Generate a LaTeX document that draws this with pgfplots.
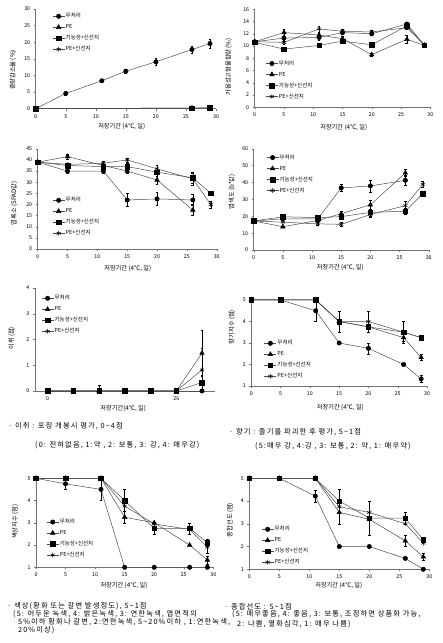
\documentclass[border=0pt]{standalone}
\usepackage{fontspec}
\setmainfont{Noto Sans CJK KR}
\newfontfamily\notefont{Noto Sans CJK KR}[LetterSpace=15.0]
\usepackage{pgfplots}
\pgfplotsset{compat=1.18}
\pgfplotsset{
 base/.style={scale only axis, anchor=south west, axis lines*=left,
   axis line style={black!55, line width=0.5pt},
   tick style={black!55, line width=0.4pt}, tick align=outside, major tick length=2pt,
   tick label style={font=\fontsize{5.3}{6}\selectfont},
   /pgf/number format/assume math mode=true,
   label style={font=\fontsize{6.2}{7}\selectfont},
   xlabel={저장기간 (4℃, 일)},
   xlabel style={anchor=center}, ylabel style={anchor=center},
   clip=false,
   legend style={draw=none, fill=none, anchor=north west, font=\fontsize{5.5}{6}\selectfont,
     inner sep=0pt, row sep=4.2pt, nodes={inner sep=0.8pt, text height=4.2pt, text depth=1pt}},
   legend cell align=left,
   legend image code/.code={\draw[##1, mark repeat=2, mark phase=2] plot coordinates {(0pt,0pt) (6pt,0pt) (12pt,0pt)};},
 },
 eb/.style={error bars/y dir=both, error bars/y explicit,
   error bars/error bar style={black, line width=0.4pt},
   error bars/error mark options={rotate=90, mark size=1.4pt, black, line width=0.4pt}},
 s1/.style={color=black!70, line width=0.5pt, mark=*, mark size=2.2pt, mark options={fill=black, draw=black, solid}, eb},
 s2/.style={color=black!70, line width=0.5pt, mark=triangle*, mark size=2.6pt, mark options={fill=black, draw=black, solid}, eb},
 s3/.style={color=black!70, line width=0.5pt, mark=square*, mark size=2.3pt, mark options={fill=black, draw=black, solid}, eb},
 s4/.style={color=black!70, line width=0.5pt, mark=asterisk, mark size=2.4pt, mark options={draw=black, solid, line width=0.5pt}, eb},
}
\begin{document}
\begin{tikzpicture}
\path[use as bounding box] (0,0) rectangle (443pt,643pt);

% 1 weight loss
\begin{axis}[base, at={(35.7pt,534.3pt)}, width=180.3pt, height=99.7pt,
  xmin=0, xmax=30, ymin=0, ymax=30, xtick={0,5,...,30}, ytick={0,5,...,30},
  ylabel={중량감소율 (\%)},
  xlabel style={at={(axis description cs:0.477,-0.184)}},
  ylabel style={at={(axis description cs:-0.126,0.388)}},
  legend style={at={(axis description cs:0.0915,0.963)}}]
\addplot[s1] coordinates {(0,0) (5,4.6) +- (0,0.4) (11,8.4) +- (0,0.4) (15,11.3) +- (0,0.7) (20,14.1) +- (0,1.0) (26,17.8) +- (0,1.1) (29,19.6) +- (0,1.3)};
\addplot[s2] coordinates {(0,0) (26,0.2) +- (0,0.3) (29,0.3) +- (0,0.3)};
\addplot[s3] coordinates {(0,0) (26,0.1) (29,0.2)};
\addplot[s4] coordinates {(0,0) (26,0.2) (29,0.2)};
\legend{무처리,PE,기능성+신선지,PE+신선지}
\end{axis}

% 2 soluble solids
\begin{axis}[base, at={(254.7pt,535.7pt)}, width=175.6pt, height=98pt,
  xmin=0, xmax=30, ymin=0, ymax=16, xtick={0,5,...,30}, ytick={0,2,...,16},
  ylabel={가용성고형물함량 (\%)},
  xlabel style={at={(axis description cs:0.507,-0.204)}},
  ylabel style={at={(axis description cs:-0.148,0.414)}},
  legend style={at={(axis description cs:0.0615,0.483)}}]
\addplot[s1] coordinates {(0,10.7) +- (0,0.3) (5,11.3) +- (0,0.5) (11,11.4) +- (0,0.5) (15,12.2) +- (0,0.3) (20,12.0) +- (0,0.3) (26,13.6) +- (0,0.3) (29,10.1)};
\addplot[s2] coordinates {(0,10.7) (5,12.2) +- (0,0.5) (11,11.8) +- (0,0.3) (15,11.2) +- (0,0.4) (20,8.6) +- (0,0.2) (26,11.1) +- (0,0.7) (29,10.1)};
\addplot[s3] coordinates {(0,10.6) (5,9.5) +- (0,0.2) (11,10.1) +- (0,0.2) (15,10.8) +- (0,0.3) (20,10.2) +- (0,0.2) (26,13.3) +- (0,0.3) (29,10.1) +- (0,0.2)};
\addplot[s4] coordinates {(0,10.7) (5,10.6) +- (0,0.3) (11,12.8) +- (0,0.5) (15,12.4) +- (0,0.3) (20,12.3) +- (0,0.3) (26,13.0) +- (0,0.3) (29,10.2)};
\legend{무처리,PE,기능성+신선지,PE+신선지}
\end{axis}

% 3 chlorophyll
\begin{axis}[base, at={(37.7pt,394pt)}, width=179pt, height=100.2pt,
  xmin=0, xmax=30, ymin=0, ymax=45, xtick={0,5,...,30}, ytick={0,5,...,45},
  ylabel={엽록소 (SPAD값)},
  xlabel style={at={(axis description cs:0.503,-0.193)}},
  ylabel style={at={(axis description cs:-0.132,0.456)}},
  legend style={at={(axis description cs:0.081,0.522)}}]
\addplot[s1] coordinates {(0,39) (5,35) +- (0,0.8) (11,35) +- (0,1) (15,22) +- (0,3) (20,22.5) +- (0,3) (26,22) +- (0,2.5)};
\addplot[s2] coordinates {(0,39) (5,41.5) +- (0,1) (11,37.5) (15,35) +- (0,1) (20,31) +- (0,1.8) (26,17.5) +- (0,2.5)};
\addplot[s3] coordinates {(0,39) (5,37.5) (11,37) +- (0,1) (15,37) +- (0,1.5) (20,34.5) +- (0,2) (26,32) +- (0,2.5) (29,25) +- (0,1)};
\addplot[s4] coordinates {(0,39) (5,38) (11,38.5) +- (0,1) (15,40) +- (0,0.8) (20,36) +- (0,1.5) (26,31.5) +- (0,2.7) (29,20) +- (0,1.5)};
\legend{무처리,PE,기능성+신선지,PE+신선지}
\end{axis}

% 4 b* value
\begin{axis}[base, at={(253.7pt,393pt)}, width=175pt, height=101.2pt,
  xmin=0, xmax=30, ymin=0, ymax=60, xtick={0,5,...,30}, ytick={0,10,...,60},
  ylabel={엽색도 (b*값)},
  xlabel style={at={(axis description cs:0.495,-0.171)}},
  ylabel style={at={(axis description cs:-0.124,0.576)}},
  legend style={at={(axis description cs:0.071,0.949)}}]
\addplot[s1] coordinates {(0,17.2) (5,18.5) +- (0,1) (11,18.5) (15,36.8) +- (0,2) (20,38) +- (0,3.5) (26,41.3) +- (0,3)};
\addplot[s2] coordinates {(0,17.2) (5,13.8) (11,17.5) (15,21.5) +- (0,1.5) (20,26.8) +- (0,2.5) (26,45.7) +- (0,2)};
\addplot[s3] coordinates {(0,17.2) +- (0,1) (5,19.7) +- (0,1) (11,19.2) (15,19.8) +- (0,1.5) (20,22.3) +- (0,2) (26,23) +- (0,1.5) (29,33.5) +- (0,1)};
\addplot[s4] coordinates {(0,17.2) (5,16.5) (11,15.5) +- (0,1) (15,15.2) +- (0,1) (20,21) +- (0,1.5) (26,26.3) +- (0,2.5) (29,39) +- (0,2)};
\legend{무처리,PE,기능성+신선지,PE+신선지}
\end{axis}

% 5 off-odor
\begin{axis}[base, at={(34.85pt,252pt)}, width=180pt, height=103pt,
  xmin=-0.5, xmax=6.5, ymin=0, ymax=4, xtick={0,5}, xticklabels={0,26}, ytick={0,1,...,4},
  xlabel={저장기간(4℃, 일)}, ylabel={이취 (점)},
  xlabel style={at={(axis description cs:0.491,-0.168)}},
  ylabel style={at={(axis description cs:-0.129,0.512)}},
  legend style={at={(axis description cs:0.035,0.935)}}]
\addplot[s1] coordinates {(0,0) (1,0) (2,0) (3,0) (4,0) (5,0) (6,0)};
\addplot[s2] coordinates {(0,0) (1,0) (2,0) (3,0) (4,0) (5,0) (6,1.47) +- (0,0.88)};
\addplot[s3] coordinates {(0,0) (1,0) (2,0) (3,0) (4,0) (5,0) (6,0.33) +- (0,0.3)};
\addplot[s4] coordinates {(0,0) (1,0) (2,0) += (0,0.23) -= (0,0) (3,0) (4,0) (5,0) (6,0.82) +- (0,0.84)};
\legend{무처리,PE,기능성+신선지,PE+신선지}
\end{axis}

% 6 aroma
\begin{axis}[base, at={(251.3pt,257pt)}, width=175.7pt, height=86pt,
  xmin=0, xmax=30, ymin=1, ymax=5, xtick={0,5,...,30}, ytick={1,2,...,5},
  ylabel={향기지수 (점)},
  xlabel style={at={(axis description cs:0.507,-0.248)}},
  ylabel style={at={(axis description cs:-0.11,0.686)}},
  legend style={at={(axis description cs:0.072,0.538)}}]
\addplot[s1] coordinates {(0,5) (5,5) (11,4.5) +- (0,0.5) (15,3) +- (0,0.05) (20,2.75) +- (0,0.25) (26,2) +- (0,0.05) (29,1.33) +- (0,0.17)};
\addplot[s2] coordinates {(0,5) (5,5) (11,5) (15,4) (20,3.75) (26,3.25) +- (0,0.15) (29,2.33) +- (0,0.15)};
\addplot[s3] coordinates {(0,5) (5,5) (11,5) (15,4) +- (0,0.5) (20,3.75) +- (0,0.25) (26,3.5) +- (0,0.5) (29,3.25) +- (0,0.05)};
\addplot[s4] coordinates {(0,5) (5,5) (11,5) (15,4) (20,4) +- (0,0.5) (26,3.5) (29,3.25)};
\legend{무처리,PE,기능성+신선지,PE+신선지}
\end{axis}

% 7 colour
\begin{axis}[base, at={(36pt,75.7pt)}, width=177.3pt, height=89pt,
  xmin=0, xmax=30, ymin=1, ymax=5, xtick={0,5,...,30}, ytick={1,2,...,5},
  ylabel={색상지수 (점)},
  xlabel style={at={(axis description cs:0.496,-0.21)}},
  ylabel style={at={(axis description cs:-0.118,0.512)}},
  legend style={at={(axis description cs:0.058,0.549)}}]
\addplot[s1] coordinates {(0,5) (5,4.75) +- (0,0.25) (11,4.5) +- (0,0.5) (15,1) (20,1) (26,1) (29,1)};
\addplot[s2] coordinates {(0,5) (5,5) (11,5) (15,3.25) +- (0,0.25) (20,3.0) (26,2.0) (29,1.33) +- (0,0.17)};
\addplot[s3] coordinates {(0,5) (5,5) (11,5) (15,4.0) +- (0,0.5) (20,2.75) +- (0,0.25) (26,2.75) +- (0,0.25) (29,2.1) +- (0,0.15)};
\addplot[s4] coordinates {(0,5) (5,5) (11,5) (15,3.75) (20,2.95) (26,2.7) (29,1.9) +- (0,0.25)};
\legend{무처리,PE,기능성+신선지,PE+신선지}
\end{axis}

% 8 overall
\begin{axis}[base, at={(249.3pt,73.7pt)}, width=180pt, height=91pt,
  xmin=0, xmax=30, ymin=1, ymax=5, xtick={0,5,...,30}, ytick={1,2,...,5},
  ylabel={종합선도 (점)},
  xlabel style={at={(axis description cs:0.497,-0.184)}},
  ylabel style={at={(axis description cs:-0.106,0.542)}},
  legend style={at={(axis description cs:0.066,0.479)}}]
\addplot[s1] coordinates {(0,5) (5,5) (11,4.22) +- (0,0.25) (15,2) (20,2) (26,1.48) (29,1.0)};
\addplot[s2] coordinates {(0,5) (5,5) (11,5) (15,3.5) +- (0,0.5) (20,3.2) (26,2.25) +- (0,0.25) (29,1.55) +- (0,0.15)};
\addplot[s3] coordinates {(0,5) (5,5) (11,5) (15,4.0) +- (0,0.5) (20,3.25) +- (0,0.75) (26,3.25) +- (0,0.25) (29,2.3) +- (0,0.1)};
\addplot[s4] coordinates {(0,5) (5,5) (11,5) (15,3.75) (20,3.5) (26,3.0) (29,2.15)};
\legend{무처리,PE,기능성+신선지,PE+신선지}
\end{axis}

% notes
\begin{scope}[every node/.style={anchor=west, inner sep=0pt, font=\notefont\fontsize{7.3}{8}\selectfont}]
\node at (8pt,217pt) {· 이취 : 포장 개봉시 평가, 0\textasciitilde4점};
\node at (35pt,198pt) {(0: 전혀없음, 1:약 , 2: 보통, 3: 강, 4: 매우강)};
\node at (229pt,211.3pt) {· 향기 : 줄기를 파괴한 후 평가, 5\textasciitilde1점};
\node at (255pt,197pt) {(5:매우 강, 4:강 , 3: 보통, 2: 약, 1: 매우약)};
\node at (7pt,37pt) {· 색상(황화 또는 갈변 발생정도), 5\textasciitilde1점};
\node at (13pt,29pt) {(5: 어두운 녹색, 4: 밝은녹색, 3: 연한녹색, 엽면적의};
\node at (18pt,21.3pt) {5\%이하 황화나 갈변, 2:연한녹색, 5\textasciitilde20\%이하 , 1:연한녹색,};
\node at (18pt,13pt) {20\%이상)};
\node at (224pt,36.3pt) {· 종합선도 : 5\textasciitilde1점};
\node at (232pt,28.7pt) {(5: 매우좋음, 4: 좋음, 3: 보통, 조정하면 상품화 가능,};
\node at (237pt,19pt) {2: 나쁨, 열화심각, 1: 매우 나쁨)};
\end{scope}
\end{tikzpicture}
\end{document}
